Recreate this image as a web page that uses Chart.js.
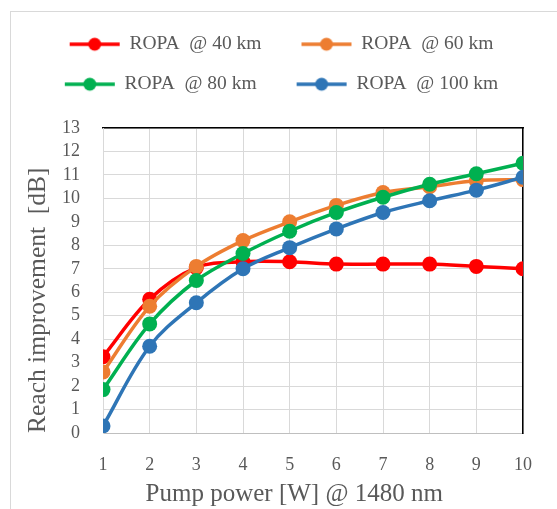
<!DOCTYPE html>
<html>
<head>
<meta charset="utf-8">
<script src="https://cdn.jsdelivr.net/npm/chart.js@4"></script>
<style>
  body { margin: 0; background: #fff; }
  #wrap { position: relative; width: 557px; height: 509px; overflow: hidden; }
  #frame { position: absolute; left: 10px; top: 11px; width: 600px; height: 600px; border: 1px solid #d9d9d9; }
  #chart { position: absolute; left: 0; top: 0; }
</style>
</head>
<body>
<div id="wrap">
  <div id="frame"></div>
  <canvas id="chart" width="557" height="509"></canvas>
</div>
<script>
// pump power in W
const pumpPower = [1, 2, 3, 4, 5, 6, 7, 8, 9, 10];

// reach improvement in dB per ROPA position
const ropa40 = [3.25, 5.7, 7.05, 7.3, 7.3, 7.2, 7.2, 7.2, 7.1, 7.0];
const ropa60 = [2.6, 5.4, 7.1, 8.2, 9.0, 9.7, 10.25, 10.5, 10.75, 10.8];
const ropa80 = [1.85, 4.65, 6.5, 7.65, 8.6, 9.4, 10.05, 10.6, 11.05, 11.5];
const ropa100 = [0.3, 3.7, 5.55, 7.0, 7.9, 8.7, 9.4, 9.9, 10.35, 10.9];

const seriesNames = ['ROPA  @ 40 km', 'ROPA  @ 60 km', 'ROPA  @ 80 km', 'ROPA  @ 100 km'];
const seriesColors = ['#ff0000', '#ed7d31', '#00b050', '#2e75b6'];

// legend marker: short line with a dot, like Excel
function makeMarker(color) {
    const c = document.createElement('canvas');
    c.width = 58;
    c.height = 16;
    const g = c.getContext('2d');
    g.strokeStyle = color;
    g.lineWidth = 3.5;
    g.beginPath();
    g.moveTo(4, 8);
    g.lineTo(54, 8);
    g.stroke();
    g.fillStyle = color;
    g.beginPath();
    g.arc(29, 8, 6.5, 0, Math.PI * 2);
    g.fill();
    return c;
}

function toPoints(values) {
    return values.map((v, i) => ({ x: pumpPower[i], y: v }));
}

const allValues = [ropa40, ropa60, ropa80, ropa100];
const datasets = allValues.map((vals, i) => ({
    label: seriesNames[i],
    data: toPoints(vals),
    borderColor: seriesColors[i],
    backgroundColor: seriesColors[i],
    borderWidth: 3.5,
    pointRadius: 7.5,
    pointHoverRadius: 7.5,
    pointBorderWidth: 0,
    pointStyle: 'circle',
    tension: 0.35,
    order: 4 - i // last series drawn on top
}));

const textColor = '#595959';
const serif = '"Liberation Serif", "Times New Roman", serif';

new Chart(document.getElementById('chart').getContext('2d'), {
    type: 'line',
    data: { datasets: datasets },
    options: {
        responsive: false,
        animation: false,
        layout: { padding: { left: 6, right: 0, top: 14, bottom: 0 } },
        plugins: {
            tooltip: { enabled: false },
            legend: {
                display: true,
                position: 'top',
                labels: {
                    color: textColor,
                    font: { family: serif, size: 19.5 },
                    usePointStyle: true,
                    pointStyleWidth: 50,
                    padding: 20.5,
                    // first item of each row gets some extra room after the text
                    generateLabels: chart => chart.data.datasets.map((ds, i) => ({
                        text: i % 2 === 0 ? ds.label + '    ' : ds.label,
                        fillStyle: ds.borderColor,
                        strokeStyle: ds.borderColor,
                        lineWidth: 0,
                        pointStyle: makeMarker(ds.borderColor),
                        fontColor: textColor,
                        datasetIndex: i,
                        hidden: false
                    }))
                }
            }
        },
        scales: {
            x: {
                type: 'linear',
                min: 1,
                max: 10,
                afterFit: s => { s.height = 76; },
                ticks: {
                    stepSize: 1,
                    autoSkip: false,
                    color: textColor,
                    padding: 21,
                    font: { family: serif, size: 18 }
                },
                grid: { color: '#d9d9d9', drawTicks: false },
                border: { color: '#bfbfbf' },
                title: {
                    display: true,
                    // trailing spaces pull the title a bit left, as in the original
                    text: 'Pump power [W] @ 1480 nm      ',
                    color: textColor,
                    font: { family: serif, size: 25 },
                    padding: { top: 0, bottom: 0 }
                }
            },
            // empty axes only for the black frame on top and right
            xTop: {
                type: 'linear',
                position: 'top',
                min: 1,
                max: 10,
                afterFit: s => { s.height = 24; },
                ticks: { display: false },
                grid: { display: false },
                border: { display: true, color: '#000000', width: 1.5 }
            },
            y: {
                min: 0,
                max: 13,
                afterFit: s => { s.width = 97; },
                ticks: {
                    stepSize: 1,
                    autoSkip: false,
                    color: textColor,
                    padding: 23,
                    font: { family: serif, size: 18 }
                },
                grid: { color: '#d9d9d9', drawTicks: false },
                border: { color: '#d9d9d9' },
                title: {
                    display: true,
                    align: 'start',
                    text: 'Reach improvement  [dB]',
                    color: textColor,
                    font: { family: serif, size: 25.5 },
                    padding: { top: 17, bottom: 0 }
                }
            },
            yRight: {
                position: 'right',
                min: 0,
                max: 13,
                afterFit: s => { s.width = 34; },
                ticks: { display: false },
                grid: { display: false },
                border: { display: true, color: '#000000', width: 1.5 }
            }
        }
    }
});
</script>
</body>
</html>
